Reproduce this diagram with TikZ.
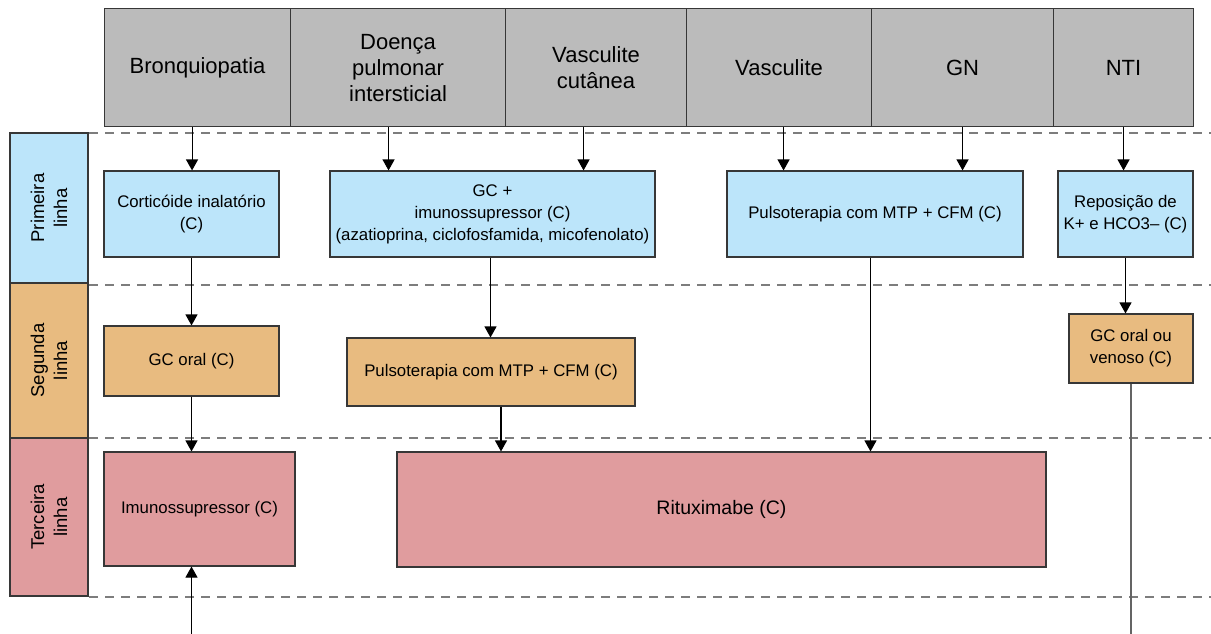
\documentclass[tikz,border=0pt]{standalone}
\usepackage{fontspec}
\setmainfont{Liberation Sans}
\usetikzlibrary{arrows.meta,calc}

\definecolor{hdrgray}{RGB}{187,187,187}
\definecolor{fillblue}{RGB}{188,229,250}
\definecolor{fillorange}{RGB}{232,187,128}
\definecolor{fillred}{RGB}{224,156,158}
\definecolor{edgegray}{RGB}{55,55,55}
\definecolor{dashgray}{RGB}{125,125,125}

\tikzset{
  cell/.style={draw=edgegray,line width=1.1pt,inner sep=2pt,align=center,
    font=\fontsize{22}{26}\selectfont,anchor=north west},
  tbox/.style={draw=edgegray,line width=1.1pt,inner sep=2pt,align=center,
    font=\fontsize{16.8}{22}\selectfont},
  side/.style={tbox,font=\fontsize{18.5}{23}\selectfont},
  arr/.style={line width=1.1pt,-{Triangle[width=12pt,length=11pt]}},
  sep/.style={dashgray,line width=2pt,dash pattern=on 9pt off 7pt}
}

\begin{document}
\begin{tikzpicture}[x=1pt,y=-1pt]
\useasboundingbox (0,0) rectangle (1211,634);
% row separators
\foreach \yy in {133,285,438,597}
  \draw[sep] (89,\yy) -- (1211,\yy);
% headers
\node[cell,fill=hdrgray,minimum width=186,minimum height=118] (bq) at (104,8) {Bronquiopatia};
\node[cell,fill=hdrgray,minimum width=215,minimum height=118] (dpi) at (290,8) {Doença\\pulmonar\\intersticial};
\node[cell,fill=hdrgray,minimum width=181,minimum height=118] (vc) at (505,8) {Vasculite\\cutânea};
\node[cell,fill=hdrgray,minimum width=185,minimum height=118] (vas) at (686,8) {Vasculite};
\node[cell,fill=hdrgray,minimum width=182,minimum height=118] (gn) at (871,8) {GN};
\node[cell,fill=hdrgray,minimum width=140,minimum height=118] (nti) at (1053,8) {NTI};
% line labels
\node[side,fill=fillblue,minimum width=150,minimum height=78,rotate=90] (l1) at (49,208) {Primeira\\linha};
\node[side,fill=fillorange,minimum width=155,minimum height=78,rotate=90] (l2) at (49,360.5) {Segunda\\linha};
\node[side,fill=fillred,minimum width=158,minimum height=78,rotate=90] (l3) at (49,517) {Terceira\\linha};
% first line
\node[tbox,fill=fillblue,minimum width=175,minimum height=86] (cor) at (191.5,214) {Corticóide inalatório\\(C)};
\node[tbox,fill=fillblue,minimum width=325,minimum height=86] (gci) at (492.5,214) {GC +\\imunossupressor (C)\\(azatioprina, ciclofosfamida, micofenolato)};
\node[tbox,fill=fillblue,minimum width=296,minimum height=86] (pmb) at (875,214) {Pulsoterapia com MTP + CFM (C)};
\node[tbox,fill=fillblue,minimum width=135,minimum height=86] (rep) at (1125.5,214) {Reposição de\\K+ e HCO3– (C)};
% second line
\node[tbox,fill=fillorange,minimum width=175,minimum height=70] (gco) at (191.5,361) {GC oral (C)};
\node[tbox,fill=fillorange,minimum width=288,minimum height=68] (pmo) at (491,372) {Pulsoterapia com MTP + CFM (C)};
\node[tbox,fill=fillorange,minimum width=124,minimum height=69] (gcv) at (1131,348.5) {GC oral ou\\venoso (C)};
% third line
\node[tbox,fill=fillred,minimum width=191,minimum height=114] (imu) at (199.5,509) {Imunossupressor (C)};
\node[tbox,fill=fillred,minimum width=649,minimum height=115,font=\fontsize{19.5}{22}\selectfont] (rit) at (721.5,509.5) {Rituximabe (C)};
% arrows
\draw[arr] ([xshift=-5.5]bq.south) -- ([xshift=-5.5]bq.south |- cor.north);
\draw[arr] ([xshift=-9.5]dpi.south) -- ([xshift=-9.5]dpi.south |- gci.north);
\draw[arr] ([xshift=-12.5]vc.south) -- ([xshift=-12.5]vc.south |- gci.north);
\draw[arr] ([xshift=4.5]vas.south) -- ([xshift=4.5]vas.south |- pmb.north);
\draw[arr] (gn.south) -- (gn.south |- pmb.north);
\draw[arr] (nti.south) -- (nti.south |- rep.north);
\draw[arr] (cor.south) -- (gco.north);
\draw[arr] ([xshift=-2]gci.south) -- ([xshift=-2]gci.south |- pmo.north);
\draw[arr] ([xshift=10]pmo.south) -- ([xshift=10]pmo.south |- rit.north);
\draw[arr] (rep.south) -- (rep.south |- gcv.north);
\draw[arr] (gco.south) -- (gco.south |- imu.north);
\draw[arr] ([xshift=-4.5]pmb.south) -- ([xshift=-4.5]pmb.south |- rit.north);
% open ends at the bottom
\coordinate (imuin) at ($(gco.south |- 0,634)$);
\coordinate (gcvout) at ($(gcv.south |- 0,634)$);
\draw[arr] (imuin) -- (imuin |- imu.south);
\draw[dashgray!80!black,line width=1.6pt] (gcv.south) -- (gcvout);
\end{tikzpicture}
\end{document}
